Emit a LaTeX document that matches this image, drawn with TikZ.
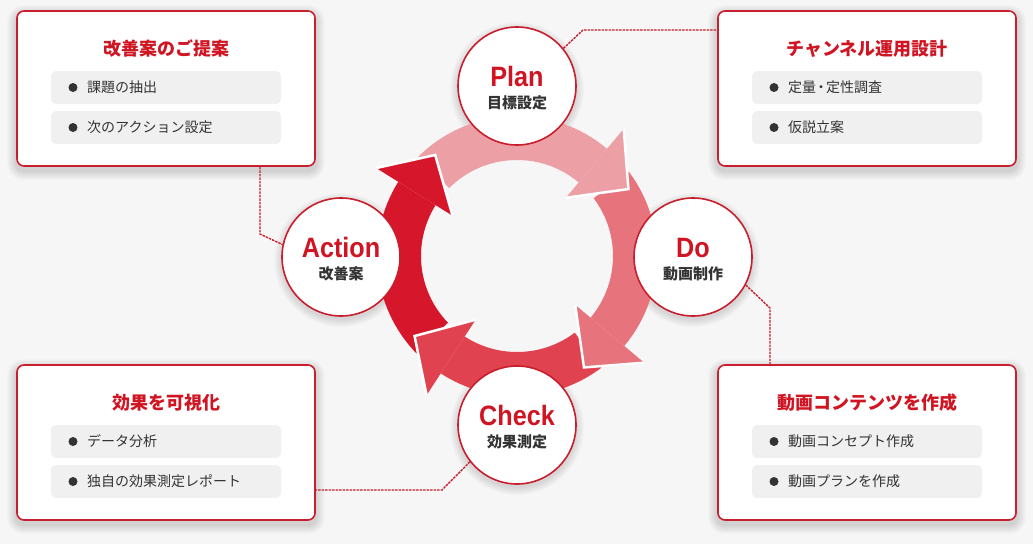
\documentclass[tikz,border=0pt]{standalone}
\usepackage{fontspec}
\setmainfont{Noto Sans CJK JP}
\newfontfamily\lat[FakeStretch=0.9]{Liberation Sans}
\usetikzlibrary{calc,backgrounds}
\definecolor{bg}{RGB}{246,246,246}
\definecolor{bred}{RGB}{200,30,45}
\definecolor{tred}{RGB}{208,20,34}
\definecolor{dark}{RGB}{51,51,51}
\definecolor{itemgray}{RGB}{240,240,240}
\definecolor{cplan}{RGB}{236,160,166}
\definecolor{cdo}{RGB}{231,116,124}
\definecolor{ccheck}{RGB}{224,67,79}
\definecolor{cact}{RGB}{214,23,43}
\tikzset{
  infobox/.style={draw=bred, line width=1.6pt, fill=white, rounded corners=7pt,
    minimum width=298pt, minimum height=155pt, inner sep=0pt},
  boxtitle/.style={inner sep=0pt, text=tred, font=\bfseries\fontsize{18}{20}\selectfont},
  itembox/.style={fill=itemgray, rounded corners=5pt, minimum width=230pt, minimum height=33pt, inner sep=0pt},
  bul/.style={circle, fill=dark, inner sep=0pt, minimum size=9pt},
  itemtext/.style={anchor=west, inner sep=0pt, text=dark, font=\fontsize{14}{16}\selectfont},
  circ/.style={circle, draw=bred, line width=1.6pt, fill=white, minimum size=118pt, inner sep=0pt},
  ctitle/.style={inner sep=0pt, text=tred, font=\lat\bfseries\fontsize{28}{30}\selectfont},
  csub/.style={inner sep=0pt, text=dark, font=\bfseries\fontsize{15}{17}\selectfont},
  conn/.style={draw=bred, line width=1.4pt, dash pattern=on 2.5pt off 1pt},
  shade/.style={fill=black, opacity=0.016},
}
\newcommand\boxshadow[1]{%
  \begin{scope}[on background layer]
    \foreach \i in {1,...,9}{
      \fill[shade, rounded corners=7pt+\i pt] ($(#1.south west)+(-\i,-\i-4)$) rectangle ($(#1.north east)+(\i,\i-4)$);
    }
  \end{scope}}
\newcommand\circshadow[1]{%
  \begin{scope}[on background layer]
    \foreach \i in {1,...,8}{
      \fill[shade] ($(#1.center)+(0,-3)$) circle (59+\i);
    }
  \end{scope}}
\newcommand\infobox[6]{%
  \node[infobox] (#1) at (#2+149,-#3-77.5) {};
  \boxshadow{#1}
  \node[boxtitle] (#1t) at (#2+149,-#3-37.5) {#4};
  \node[itembox] (#1a) at (#2+149,-#3-76.5) {};
  \node[bul] (#1ab) at (#2+56,-#3-76.5) {};
  \node[itemtext] (#1at) at (#2+70,-#3-76.5) {#5};
  \node[itembox] (#1b) at (#2+149,-#3-116.5) {};
  \node[bul] (#1bb) at (#2+56,-#3-116.5) {};
  \node[itemtext] (#1bt) at (#2+70,-#3-116.5) {#6};
}
\begin{document}
\begin{tikzpicture}[x=1pt,y=1pt]
\begin{scope}[on background layer]
  \fill[bg] (0,0) rectangle (1033,-544);
\end{scope}
\useasboundingbox (0,0) rectangle (1033,-544);
% cycle arrows
\begin{scope}[shift={(517,-256)}]
  \foreach \s/\h/\c in {135/50/cplan,37/-40/cdo,-53/-123/ccheck,224/148/cact}{
    \fill[\c] (\s:140) arc[start angle=\s,end angle=\h,radius=140] -- (\h:96)
      arc[start angle=\h,end angle=\s,radius=96] -- cycle;
  }
  \foreach \h/\c in {50/cplan,-40/cdo,-123/ccheck,148/cact}{
    \pgfmathsetmacro\t{\h-19}
    \filldraw[fill=\c, draw=white, line width=2.5pt, line join=miter] (\h:76) -- (\t:130) -- (\h:166);
  }
\end{scope}
% boxes
\infobox{tl}{17}{11}{改善案のご提案}{課題の抽出}{次のアクション設定}
\infobox{tr}{718}{11}{チャンネル運用設計}{定量\kern-2pt・\kern-2pt定性調査}{仮説立案}
\infobox{bl}{17}{365}{効果を可視化}{データ分析}{独自の効果測定レポート}
\infobox{br}{718}{365}{動画コンテンツを作成}{動画コンセプト作成}{動画プランを作成}
% circles
\node[circ] (plan) at (517,-86) {};
\node[circ] (donode) at (693,-257) {};
\node[circ] (chk) at (517,-425) {};
\node[circ] (act) at (341,-257) {};
\circshadow{plan}\circshadow{donode}\circshadow{chk}\circshadow{act}
% connectors
\coordinate (a1) at (260,-234);
\draw[conn] (tl.south -| a1) -- (a1) -- (act.168);
\coordinate (p1) at (583,-30);
\draw[conn] (plan.39) -- (p1) -- (p1 -| tr.west);
\coordinate (d1) at (770,-308);
\draw[conn] (donode.-28) -- (d1) -- (d1 |- br.north);
\coordinate (c1) at (442,-490);
\draw[conn] (chk.218) -- (c1) -- (c1 -| bl.east);
% circle labels
\node[ctitle] (planT) at ([yshift=9.5]plan.center) {Plan};
\node[csub] (planS) at ([yshift=-17]plan.center) {目標設定};
\node[ctitle] (doT) at ([yshift=9.5]donode.center) {Do};
\node[csub] (doS) at ([yshift=-17]donode.center) {動画制作};
\node[ctitle] (chkT) at ([yshift=9.5]chk.center) {Check};
\node[csub] (chkS) at ([yshift=-17]chk.center) {効果測定};
\node[ctitle] (actT) at ([yshift=9.5]act.center) {Action};
\node[csub] (actS) at ([yshift=-17]act.center) {改善案};
\end{tikzpicture}
\end{document}
